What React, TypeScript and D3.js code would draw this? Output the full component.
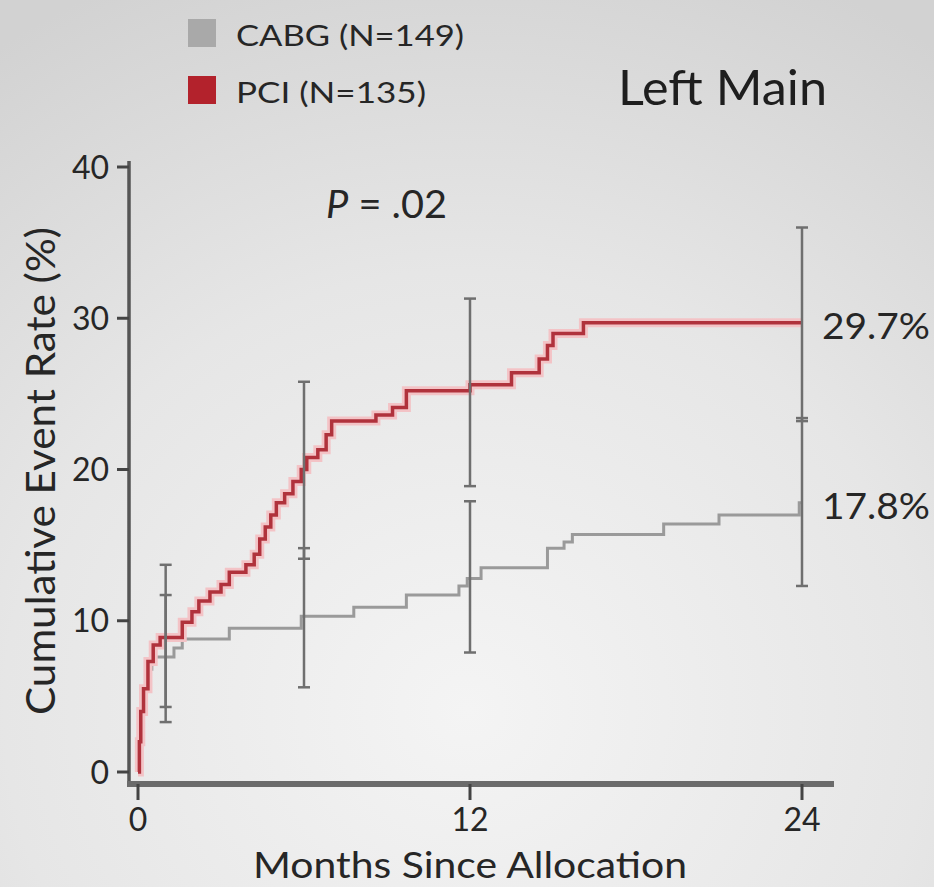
import { useRef, useEffect } from 'react';
import * as d3 from 'd3';

// Kaplan-Meier style step data (months, cumulative event rate %)
const pciMonths = [0, 0.05, 0.1, 0.2, 0.36, 0.55, 0.8, 1.6, 1.95, 2.2, 2.6, 3.0, 3.3, 3.9, 4.2, 4.4, 4.6, 4.8, 5.0, 5.3, 5.6, 5.9, 6.1, 6.5, 6.8, 7.0, 8.6, 9.2, 9.7, 12.0, 13.5, 14.5, 14.8, 15.0, 16.1, 24];
const pciRates = [0, 2, 4, 5.5, 7.3, 8.4, 8.9, 9.9, 10.6, 11.3, 11.9, 12.4, 13.2, 13.7, 14.4, 15.4, 16.2, 17.0, 17.8, 18.4, 19.2, 20.0, 20.8, 21.3, 22.3, 23.2, 23.6, 24.1, 25.2, 25.6, 26.4, 27.3, 28.2, 29.0, 29.7, 29.7];

const cabgMonths = [0, 0.05, 0.1, 0.2, 0.3, 0.5, 1.3, 1.6, 3.3, 5.9, 7.8, 9.7, 11.6, 11.9, 12.4, 14.8, 15.4, 15.7, 19.0, 21.0, 23.9, 24];
const cabgRates = [0, 2, 4, 5.5, 6.8, 7.6, 8.2, 8.8, 9.5, 10.3, 10.9, 11.7, 12.3, 12.8, 13.5, 14.8, 15.2, 15.7, 16.4, 17.0, 17.8, 17.8];

// 95% CI bars
const ciMonths = [1, 6, 12, 24];
const pciLow = [4.3, 14.1, 18.9, 23.2];
const pciHigh = [13.7, 25.8, 31.3, 36.0];
const cabgLow = [3.3, 5.6, 7.9, 12.3];
const cabgHigh = [11.7, 14.8, 17.9, 23.4];

const xTicks = [0, 12, 24];
const yTicks = [0, 10, 20, 30, 40];
const legendLabels = ['CABG (N=149)', 'PCI (N=135)'];
const legendWidths = [228, 190];
const endLabels = ['29.7%', '17.8%'];

const W = 934;
const H = 887;
const FONT = 'Lato, "Open Sans", sans-serif';
const INK = '#262626';

const LeftMainChart = () => {
    const svgRef = useRef(null);

    useEffect(() => {
        const svg = d3.select(svgRef.current);
        svg.selectAll('*').remove();

        // background gradient
        const defs = svg.append('defs');
        const grad = defs.append('radialGradient')
            .attr('id', 'bg')
            .attr('cx', '0.5').attr('cy', '0.8').attr('r', '0.9');
        grad.append('stop').attr('offset', '0%').attr('stop-color', '#f4f4f4');
        grad.append('stop').attr('offset', '55%').attr('stop-color', '#e6e6e6');
        grad.append('stop').attr('offset', '100%').attr('stop-color', '#d2d2d2');
        svg.append('rect').attr('width', W).attr('height', H).attr('fill', 'url(#bg)');

        const x = d3.scaleLinear().domain([0, 24]).range([138, 802]);
        const y = d3.scaleLinear().domain([0, 40]).range([772, 167]);

        // axes
        svg.append('line')
            .attr('x1', 129).attr('x2', 129)
            .attr('y1', y(40) - 6).attr('y2', 786)
            .attr('stroke', '#555').attr('stroke-width', 3.5);
        svg.append('line')
            .attr('x1', 127).attr('x2', 834)
            .attr('y1', 784).attr('y2', 784)
            .attr('stroke', '#6b6b6b').attr('stroke-width', 6);

        svg.selectAll('.ytick')
            .data(yTicks)
            .enter()
            .append('line')
                .attr('x1', 117).attr('x2', 129)
                .attr('y1', d => y(d)).attr('y2', d => y(d))
                .attr('stroke', '#444').attr('stroke-width', 3);
        svg.selectAll('.ylab')
            .data(yTicks)
            .enter()
            .append('text')
                .attr('x', 109)
                .attr('y', d => y(d))
                .attr('dy', '0.36em')
                .attr('text-anchor', 'end')
                .attr('font-family', FONT)
                .attr('font-size', 32)
                .attr('fill', INK)
                .text(d => d);

        svg.selectAll('.xtick')
            .data(xTicks)
            .enter()
            .append('line')
                .attr('x1', d => x(d)).attr('x2', d => x(d))
                .attr('y1', 784).attr('y2', 800)
                .attr('stroke', '#444').attr('stroke-width', 3);
        svg.selectAll('.xlab')
            .data(xTicks)
            .enter()
            .append('text')
                .attr('x', d => x(d))
                .attr('y', 831)
                .attr('text-anchor', 'middle')
                .attr('font-family', FONT)
                .attr('font-size', 32)
                .attr('fill', INK)
                .text(d => d);

        // axis titles
        svg.append('text')
            .attr('x', 470).attr('y', 878)
            .attr('text-anchor', 'middle')
            .attr('font-family', FONT)
            .attr('font-size', 36)
            .attr('fill', INK)
            .attr('textLength', 434)
            .attr('lengthAdjust', 'spacingAndGlyphs')
            .text('Months Since Allocation');
        svg.append('text')
            .attr('transform', 'translate(55, 471) rotate(-90)')
            .attr('text-anchor', 'middle')
            .attr('font-family', FONT)
            .attr('font-size', 40)
            .attr('fill', INK)
            .attr('textLength', 488)
            .attr('lengthAdjust', 'spacingAndGlyphs')
            .text('Cumulative Event Rate (%)');

        // step curves
        const line = d3.line()
            .x(d => x(d[0]))
            .y(d => y(d[1]))
            .curve(d3.curveStepAfter);
        const cabgData = cabgMonths.map((m, i) => [m, cabgRates[i]]);
        const pciData = pciMonths.map((m, i) => [m, pciRates[i]]);

        svg.append('path')
            .attr('d', line(cabgData))
            .attr('fill', 'none')
            .attr('stroke', '#9a9a9a')
            .attr('stroke-width', 3);
        svg.append('path')
            .attr('d', line(pciData))
            .attr('fill', 'none')
            .attr('stroke', '#f3c3c6')
            .attr('stroke-width', 9);
        svg.append('path')
            .attr('d', line(pciData))
            .attr('fill', 'none')
            .attr('stroke', '#b0323c')
            .attr('stroke-width', 3.5);

        // error bars
        const bars = [];
        ciMonths.forEach((m, i) => {
            bars.push([m, pciLow[i], pciHigh[i]]);
            bars.push([m, cabgLow[i], cabgHigh[i]]);
        });
        const eb = svg.append('g')
            .attr('stroke', '#6f6f6f')
            .attr('stroke-width', 2.5);
        eb.selectAll('.bar')
            .data(bars)
            .enter()
            .append('line')
                .attr('x1', d => x(d[0])).attr('x2', d => x(d[0]))
                .attr('y1', d => y(d[1])).attr('y2', d => y(d[2]));
        eb.selectAll('.capLo')
            .data(bars)
            .enter()
            .append('line')
                .attr('x1', d => x(d[0]) - 6).attr('x2', d => x(d[0]) + 6)
                .attr('y1', d => y(d[1])).attr('y2', d => y(d[1]));
        eb.selectAll('.capHi')
            .data(bars)
            .enter()
            .append('line')
                .attr('x1', d => x(d[0]) - 6).attr('x2', d => x(d[0]) + 6)
                .attr('y1', d => y(d[2])).attr('y2', d => y(d[2]));

        // end labels
        svg.selectAll('.endlab')
            .data([pciRates[pciRates.length - 1], cabgRates[cabgRates.length - 1]])
            .enter()
            .append('text')
                .attr('x', 822)
                .attr('y', d => y(d))
                .attr('dy', '0.45em')
                .attr('font-family', FONT)
                .attr('font-size', 37)
                .attr('fill', INK)
                .attr('textLength', 108)
                .attr('lengthAdjust', 'spacingAndGlyphs')
                .text((d, i) => endLabels[i]);

        // P value
        const p = svg.append('text')
            .attr('x', 326).attr('y', 218)
            .attr('font-family', FONT)
            .attr('font-size', 38)
            .attr('fill', INK)
            .attr('textLength', 121)
            .attr('lengthAdjust', 'spacingAndGlyphs');
        p.append('tspan').attr('font-style', 'italic').text('P');
        p.append('tspan').text(' = .02');

        // legend
        const legendColors = ['#a9a9a9', '#b3222c'];
        legendLabels.forEach((lab, i) => {
            svg.append('rect')
                .attr('x', 188).attr('y', 19 + i * 57)
                .attr('width', 28).attr('height', 28)
                .attr('fill', legendColors[i]);
            svg.append('text')
                .attr('x', 236).attr('y', 46 + i * 57)
                .attr('font-family', FONT)
                .attr('font-size', 29)
                .attr('fill', INK)
                .attr('textLength', legendWidths[i])
                .attr('lengthAdjust', 'spacingAndGlyphs')
                .text(lab);
        });

        // title
        svg.append('text')
            .attr('x', 618).attr('y', 105)
            .attr('font-family', FONT)
            .attr('font-size', 48)
            .attr('fill', '#1e1e1e')
            .attr('textLength', 209)
            .attr('lengthAdjust', 'spacingAndGlyphs')
            .text('Left Main');
    }, []);

    return <svg ref={svgRef} width={W} height={H}></svg>;
};

export default function App() {
    return (
        <div style={{ position: 'absolute', left: 0, top: 0 }}>
            <LeftMainChart />
        </div>
    );
}
